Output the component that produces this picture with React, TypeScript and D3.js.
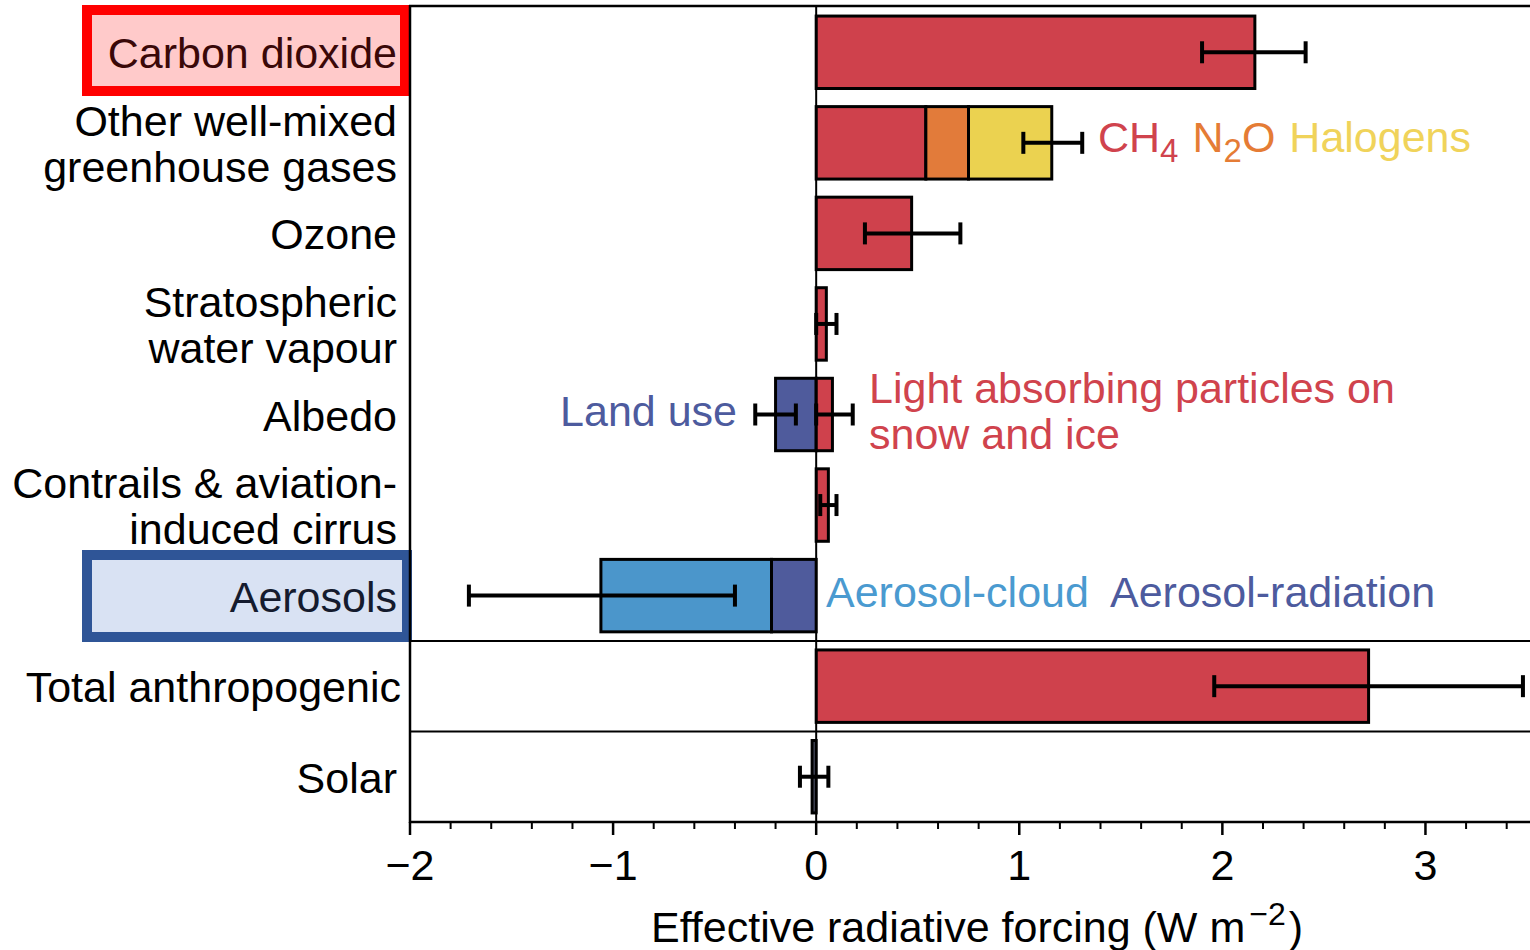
import React from "react";
import * as d3 from "d3";

// rows, top to bottom
const rowLabels: string[][] = [
  ["Carbon dioxide"],
  ["Other well-mixed", "greenhouse gases"],
  ["Ozone"],
  ["Stratospheric", "water vapour"],
  ["Albedo"],
  ["Contrails & aviation-", "induced cirrus"],
  ["Aerosols"],
  ["Total anthropogenic"],
  ["Solar"],
];

// stacked components: row index, component name, contribution (W m-2)
const componentRows = [0, 1, 1, 1, 2, 3, 4, 4, 5, 6, 6, 7, 8];
const componentNames = [
  "CO2", "CH4", "N2O", "Halogens", "Ozone", "Strat H2O",
  "Land use", "LAPSI", "Contrails",
  "Aerosol-radiation", "Aerosol-cloud", "Total", "Solar",
];
const componentValues = [2.16, 0.54, 0.21, 0.41, 0.47, 0.05, -0.2, 0.08, 0.06, -0.22, -0.84, 2.72, -0.02];
const componentColors = [
  "#cf414c", "#cf414c", "#e27b3a", "#ebd250", "#cf414c", "#cf414c",
  "#4f5b9c", "#cf414c", "#cf414c", "#4f5b9c", "#4b96cb", "#cf414c", "#555a70",
];

// uncertainty ranges
const errRows = [0, 1, 2, 3, 4, 4, 5, 6, 7, 8];
const errLow = [1.9, 1.02, 0.24, 0.0, -0.3, 0.0, 0.02, -1.71, 1.96, -0.08];
const errHigh = [2.41, 1.31, 0.71, 0.1, -0.1, 0.18, 0.1, -0.4, 3.48, 0.06];

const xTicks = [-2, -1, 0, 1, 2, 3];

const W = 1530;
const H = 950;
const FONT = "'Liberation Sans', Arial, sans-serif";
const FS = 43;

export default function App() {
  const x = d3.scaleLinear().domain([-2, 3.5]).range([410, 1527]);
  const y = d3
    .scaleBand<number>()
    .domain(d3.range(rowLabels.length))
    .range([7, 822])
    .paddingInner(0.2)
    .paddingOuter(0.1);
  const step = y.step();
  const rowTop = (i: number) => 7 + i * step;
  const rowMid = (i: number) => rowTop(i) + step / 2;

  // stack components from zero in each sign direction
  const posAcc: number[] = rowLabels.map(() => 0);
  const negAcc: number[] = rowLabels.map(() => 0);
  const segments = componentValues.map((v, i) => {
    const r = componentRows[i];
    let x0: number, x1: number;
    if (v >= 0) {
      x0 = posAcc[r];
      x1 = x0 + v;
      posAcc[r] = x1;
    } else {
      x1 = negAcc[r];
      x0 = x1 + v;
      negAcc[r] = x0;
    }
    return { r, x0, x1, color: componentColors[i], name: componentNames[i] };
  });

  const minorTicks = d3.range(-2, 3.5001, 0.2).filter(
    (t) => Math.abs(t - Math.round(t)) > 1e-6
  );

  const capH = 22;

  return (
    <svg
      width={W}
      height={H}
      style={{ position: "absolute", left: 0, top: 0, background: "#fff" }}
      fontFamily={FONT}
    >
      {/* highlight boxes */}
      <rect x={87} y={10} width={318} height={81} fill="#ffcaca" stroke="#ff0000" strokeWidth={10} />
      <rect x={87} y={555} width={320} height={82} fill="#d9e2f3" stroke="#2f5597" strokeWidth={10} />

      {/* row labels */}
      {rowLabels.map((lines, i) => {
        const n = lines.length;
        const color = i === 0 ? "#3a0808" : i === 6 ? "#151b2e" : "#000";
        const lx = i === 7 ? 401 : 397;
        return (
          <text key={i} x={lx} textAnchor="end" fontSize={FS} fill={color}>
            {lines.map((l, j) => (
              <tspan key={j} x={lx} y={rowMid(i) + 16 + (j - (n - 1) / 2) * 46}>
                {l}
              </tspan>
            ))}
          </text>
        );
      })}

      {/* bars */}
      {segments.map((s, i) => (
        <rect
          key={i}
          x={x(s.x0)}
          y={y(s.r)}
          width={x(s.x1) - x(s.x0)}
          height={y.bandwidth()}
          fill={s.color}
          stroke="#000"
          strokeWidth={3}
        />
      ))}

      {/* zero line */}
      <line x1={x(0)} x2={x(0)} y1={6} y2={822} stroke="#000" strokeWidth={2} />

      {/* error bars */}
      {errRows.map((r, i) => {
        const cy = rowMid(r);
        return (
          <g key={i} stroke="#000" strokeWidth={4}>
            <line x1={x(errLow[i])} x2={x(errHigh[i])} y1={cy} y2={cy} />
            <line x1={x(errLow[i])} x2={x(errLow[i])} y1={cy - capH / 2} y2={cy + capH / 2} />
            <line x1={x(errHigh[i])} x2={x(errHigh[i])} y1={cy - capH / 2} y2={cy + capH / 2} />
          </g>
        );
      })}

      {/* frame and separators */}
      <line x1={409} x2={W} y1={6} y2={6} stroke="#000" strokeWidth={2.5} />
      <line x1={410} x2={410} y1={5} y2={823} stroke="#000" strokeWidth={2.5} />
      <line x1={409} x2={W} y1={rowTop(7)} y2={rowTop(7)} stroke="#000" strokeWidth={2} />
      <line x1={409} x2={W} y1={rowTop(8)} y2={rowTop(8)} stroke="#000" strokeWidth={2} />
      <line x1={409} x2={W} y1={822} y2={822} stroke="#000" strokeWidth={2.5} />

      {/* x axis ticks */}
      {xTicks.map((t) => (
        <g key={t}>
          <line x1={x(t)} x2={x(t)} y1={822} y2={835} stroke="#000" strokeWidth={2.5} />
          <text x={x(t)} y={880} textAnchor="middle" fontSize={FS}>
            {t < 0 ? "\u2212" + Math.abs(t) : t}
          </text>
        </g>
      ))}
      {minorTicks.map((t, i) => (
        <line key={i} x1={x(t)} x2={x(t)} y1={822} y2={829} stroke="#000" strokeWidth={2} />
      ))}
      <text x={977} y={942} textAnchor="middle" fontSize={FS}>
        Effective radiative forcing (W m
        <tspan dx={4} dy={-17} fontSize={32}>{"\u22122"}</tspan>
        <tspan dx={3} dy={17}>)</tspan>
      </text>

      {/* annotations */}
      <text x={1098} y={152} fontSize={FS}>
        <tspan fill="#d0434d">CH</tspan>
        <tspan fill="#d0434d" fontSize={33} dy={10}>4</tspan>
        <tspan fill="#e57c35" dy={-10} dx={14}>N</tspan>
        <tspan fill="#e57c35" fontSize={33} dy={10}>2</tspan>
        <tspan fill="#e57c35" dy={-10}>O</tspan>
        <tspan fill="#f0d35a" dx={14}>Halogens</tspan>
      </text>
      <text x={737} y={426} textAnchor="end" fontSize={FS} fill="#4d5b9e">Land use</text>
      <text x={869} y={403} fontSize={FS} fill="#d0434d">
        <tspan x={869}>Light absorbing particles on</tspan>
        <tspan x={869} y={449}>snow and ice</tspan>
      </text>
      <text x={826} y={607} fontSize={FS} fill="#4a9ad0">Aerosol-cloud</text>
      <text x={1110} y={607} fontSize={FS} fill="#4d5b9e">Aerosol-radiation</text>
    </svg>
  );
}
